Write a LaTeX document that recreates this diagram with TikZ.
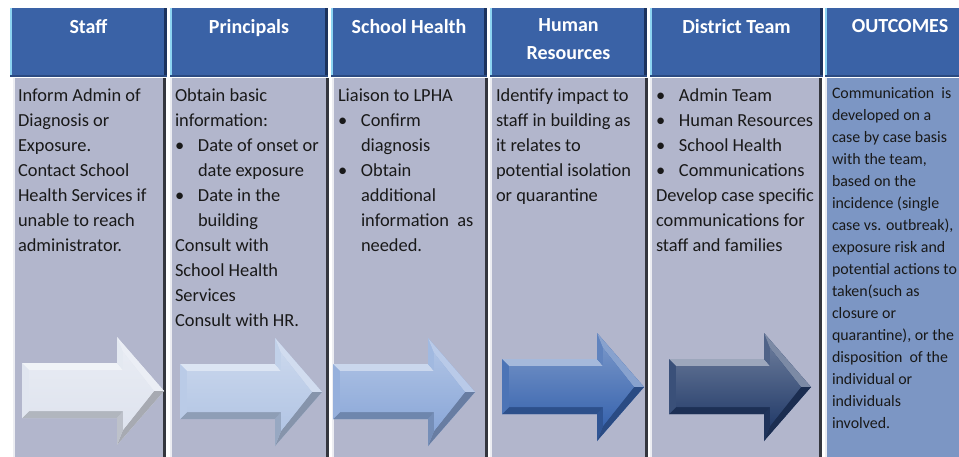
\documentclass[tikz,border=0pt]{standalone}
\usepackage{fontspec}
\setmainfont{Carlito}
\usepackage{tikz}
\usetikzlibrary{positioning,shadings}

\definecolor{HeadBlue}{RGB}{58,98,166}
\definecolor{HeadEdge}{RGB}{140,212,242}
\definecolor{HeadShade}{RGB}{28,50,92}
\definecolor{CellGrey}{RGB}{178,182,204}
\definecolor{CellShade}{RGB}{52,54,62}
\definecolor{OutcomeBlue}{RGB}{124,150,196}
\definecolor{ArrowA}{RGB}{222,227,238}
\definecolor{ArrowB}{RGB}{178,197,228}
\definecolor{ArrowC}{RGB}{138,167,216}
\definecolor{ArrowD}{RGB}{56,100,174}
\definecolor{ArrowE}{RGB}{36,60,106}

\newcommand{\bul}{\makebox[23pt][l]{\textbullet}}
\newcommand{\cont}{\hspace*{23pt}}

\tikzset{
  every node/.style={
    inner sep=0pt,
    outer sep=0pt
  },
  header/.style n args={2}{
    shape=rectangle,
    anchor=north west,
    minimum width=#1,
    minimum height=69pt,
    fill=HeadBlue,
    path picture={
      \fill[HeadEdge] (path picture bounding box.north west) rectangle ([xshift=2pt]path picture bounding box.south west);
      \fill[HeadShade] (path picture bounding box.north east) rectangle ([xshift=-3pt]path picture bounding box.south east);
      \fill[HeadShade!50!HeadBlue] (path picture bounding box.south west) rectangle ([yshift=2pt]path picture bounding box.south east);
    },
    label={[header text]north:{#2}}
  },
  header text/.style={
    anchor=north,
    yshift=-11pt,
    align=center,
    text=white,
    font=\fontsize{20}{28}\selectfont\bfseries
  },
  cell/.style={
    shape=rectangle,
    anchor=north west,
    minimum width=#1,
    minimum height=390pt,
    fill=CellGrey,
    path picture={
      \fill[white!75!CellGrey] (path picture bounding box.north west) rectangle ([xshift=1.5pt]path picture bounding box.south west);
      \fill[CellShade] (path picture bounding box.north east) rectangle ([xshift=-3pt]path picture bounding box.south east);
    }
  },
  cell text/.style={
    anchor=north west,
    yshift=-11pt,
    align=left,
    text=black!90,
    font=\fontsize{18.4}{25}\selectfont
  },
  outcome text/.style={
    cell text,
    yshift=1.5pt,
    font=\fontsize{15.9}{22}\selectfont
  },
  pics/flow arrow/.style={
    code={
      \fill[#1] (0,26) -- (95,26) -- (95,0) -- (142,54) -- (95,108) -- (95,81) -- (0,81) -- cycle;
      \fill[#1!45!white] (0,26) -- (95,26) -- (101,33) -- (7,33) -- cycle;
      \fill[#1!80!white] (95,26) -- (95,0) -- (101,15) -- (101,33) -- cycle;
      \fill[#1!60!white] (95,0) -- (142,54) -- (132,54) -- (101,15) -- cycle;
      \fill[#1!75!black] (142,54) -- (95,108) -- (101,93) -- (132,54) -- cycle;
      \fill[#1!85!black] (95,108) -- (95,81) -- (101,74) -- (101,93) -- cycle;
      \fill[#1!80!black] (95,81) -- (0,81) -- (7,74) -- (101,74) -- cycle;
      \fill[#1!90!white] (0,81) -- (0,26) -- (7,33) -- (7,74) -- cycle;
      \shade[top color=#1!70!white, bottom color=#1] (7,33) -- (101,33) -- (101,15) -- (132,54) -- (101,93) -- (101,74) -- (7,74) -- cycle;
    }
  }
}

\begin{document}
\begin{tikzpicture}[x=1pt, y=-1pt]
  \clip (0,0) rectangle (959,456);
  \fill[white] (0,0) rectangle (959,456);

  \node [header={157pt}{Staff}] (staffhead) at (10,8) {};
  \node [header={158pt}{Principals}] (princhead) at (170,8) {};
  \node [header={156pt}{School Health}] (healthhead) at (331,8) {};
  \node [header={157pt}{Human\\Resources}] (hrhead) at (490,8) {};
  \node [header={173pt}{District Team}] (districthead) at (650,8) {};
  \node [header={150pt}{OUTCOMES}] (outhead) at (825,8) {};

  \node [cell=153pt] (staffcell) at (13,78) {};
  \node [cell=159pt] (princcell) at (170,78) {};
  \node [cell=156pt] (healthcell) at (332,78) {};
  \node [cell=158pt] (hrcell) at (490,78) {};
  \node [cell=172pt] (districtcell) at (650,78) {};
  \node [cell=150pt, fill=OutcomeBlue] (outcell) at (825,78) {};

  \node [cell text] (stafftext) at ([xshift=5pt]staffcell.north west) {
    Inform Admin of\\Diagnosis or\\Exposure.\\Contact School\\Health Services if\\unable to reach\\administrator.
  };
  \node [cell text] (princtext) at ([xshift=5pt]princcell.north west) {
    Obtain basic\\information:\\\bul Date of onset or\\\cont date exposure\\\bul Date in the\\\cont building\\Consult with\\School Health\\Services\\Consult with HR.
  };
  \node [cell text] (healthtext) at ([xshift=6pt]healthcell.north west) {
    Liaison to LPHA\\\bul Confirm\\\cont diagnosis\\\bul Obtain\\\cont additional\\\cont information\ \ as\\\cont needed.
  };
  \node [cell text] (hrtext) at ([xshift=6pt]hrcell.north west) {
    Identify impact to\\staff in building as\\it relates to\\potential isolation\\or quarantine
  };
  \node [cell text] (districttext) at ([xshift=6pt]districtcell.north west) {
    \bul Admin Team\\\bul Human Resources\\\bul School Health\\\bul Communications\\Develop case specific\\communications for\\staff and families
  };
  \node [outcome text] (outtext) at ([xshift=7pt]outcell.north west) {
    Communication\ \ is\\developed on a\\case by case basis\\with the team,\\based on the\\incidence (single\\case vs. outbreak),\\exposure risk and\\potential actions to\\taken(such as\\closure or\\quarantine), or the\\disposition\ \ of the\\individual or\\individuals\\involved.
  };

  \pic (staffarrow) at (22,337) {flow arrow=ArrowA};
  \pic (princarrow) at (180,338) {flow arrow=ArrowB};
  \pic (healtharrow) at (333,338) {flow arrow=ArrowC};
  \pic (hrarrow) at (502,333) {flow arrow=ArrowD};
  \pic (districtarrow) at (669,333) {flow arrow=ArrowE};
\end{tikzpicture}
\end{document}
